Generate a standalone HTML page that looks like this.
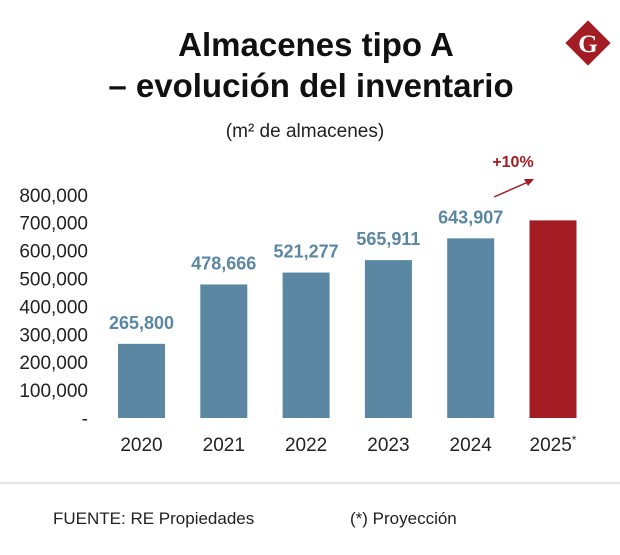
<!DOCTYPE html>
<html><head><meta charset="utf-8"><style>
body{margin:0;background:#fff;font-family:"Liberation Sans",sans-serif;}
svg{display:block}
</style></head><body>
<svg width="620" height="555" viewBox="0 0 620 555">
<text x="316" y="56" text-anchor="middle" font-size="33" font-weight="bold" fill="#111">Almacenes tipo A</text>
<text x="311" y="97" text-anchor="middle" font-size="33" font-weight="bold" fill="#111">– evolución del inventario</text>
<text x="305" y="137" text-anchor="middle" font-size="19" fill="#222">(m² de almacenes)</text>
<g>
<rect x="572" y="27" width="32" height="32" fill="#a31c23" transform="rotate(45 588 43)"/>
<text x="588" y="52" text-anchor="middle" font-family="Liberation Serif,serif" font-weight="bold" font-size="25" fill="#fff">G</text>
</g>
<g id="yaxis"></g>
<g id="bars"></g>
<text x="513" y="167" text-anchor="middle" font-size="16" font-weight="bold" fill="#a31c23">+10%</text>
<line x1="494" y1="197" x2="528" y2="182" stroke="#a31c23" stroke-width="1.5"/>
<polygon points="534,179 524,179 528,186" fill="#a31c23"/>
<line x1="0" y1="483" x2="620" y2="483" stroke="#ccc" stroke-width="1"/>
<text x="53" y="524" font-size="17" fill="#222">FUENTE: RE Propiedades</text>
<text x="350" y="524" font-size="17" fill="#222">(*) Proyección</text>
</svg>
<script>
const categories=["2020","2021","2022","2023","2024","2025"];
const values=[265800,478666,521277,565911,643907,708298];
const valueLabels=["265,800","478,666","521,277","565,911","643,907",""];
const yTicks=[0,100000,200000,300000,400000,500000,600000,700000,800000];
const yTickLabels=["-","100,000","200,000","300,000","400,000","500,000","600,000","700,000","800,000"];
const NS="http://www.w3.org/2000/svg";
function y(v){return 418-v*0.000279;}
function x(i){return 141.5+i*82.3;}
const ya=document.getElementById('yaxis');
yTicks.forEach((t,i)=>{
 const e=document.createElementNS(NS,'text');
 e.setAttribute('x',88);e.setAttribute('y',y(t)+7);
 e.setAttribute('text-anchor','end');e.setAttribute('font-size','19');e.setAttribute('fill','#222');
 e.textContent=yTickLabels[i];
 
 
 ya.appendChild(e);
});
const bg=document.getElementById('bars');
categories.forEach((c,i)=>{
 const last=i===categories.length-1;
 const r=document.createElementNS(NS,'rect');
 r.setAttribute('x',x(i)-23.5);r.setAttribute('width',47);
 r.setAttribute('y',y(values[i]));r.setAttribute('height',418-y(values[i]));
 r.setAttribute('fill',last?'#a31c23':'#5b87a3');
 
 
 bg.appendChild(r);
 if(valueLabels[i]){
  const l=document.createElementNS(NS,'text');
  l.setAttribute('x',x(i));l.setAttribute('y',y(values[i])-15);
  l.setAttribute('text-anchor','middle');l.setAttribute('font-size','18');l.setAttribute('font-weight','bold');l.setAttribute('fill','#5b87a3');
  l.textContent=valueLabels[i];
  
  
  bg.appendChild(l);
 }
 const t=document.createElementNS(NS,'text');
 t.setAttribute('x',x(i));t.setAttribute('y',451);
 t.setAttribute('text-anchor','middle');t.setAttribute('font-size','19');t.setAttribute('fill','#222');
 t.textContent=c;
 if(last){const s=document.createElementNS(NS,'tspan');s.setAttribute('font-size','12');s.setAttribute('dy','-7');s.textContent='*';t.appendChild(s);}
 
 
 bg.appendChild(t);
});
</script>
</body></html>
